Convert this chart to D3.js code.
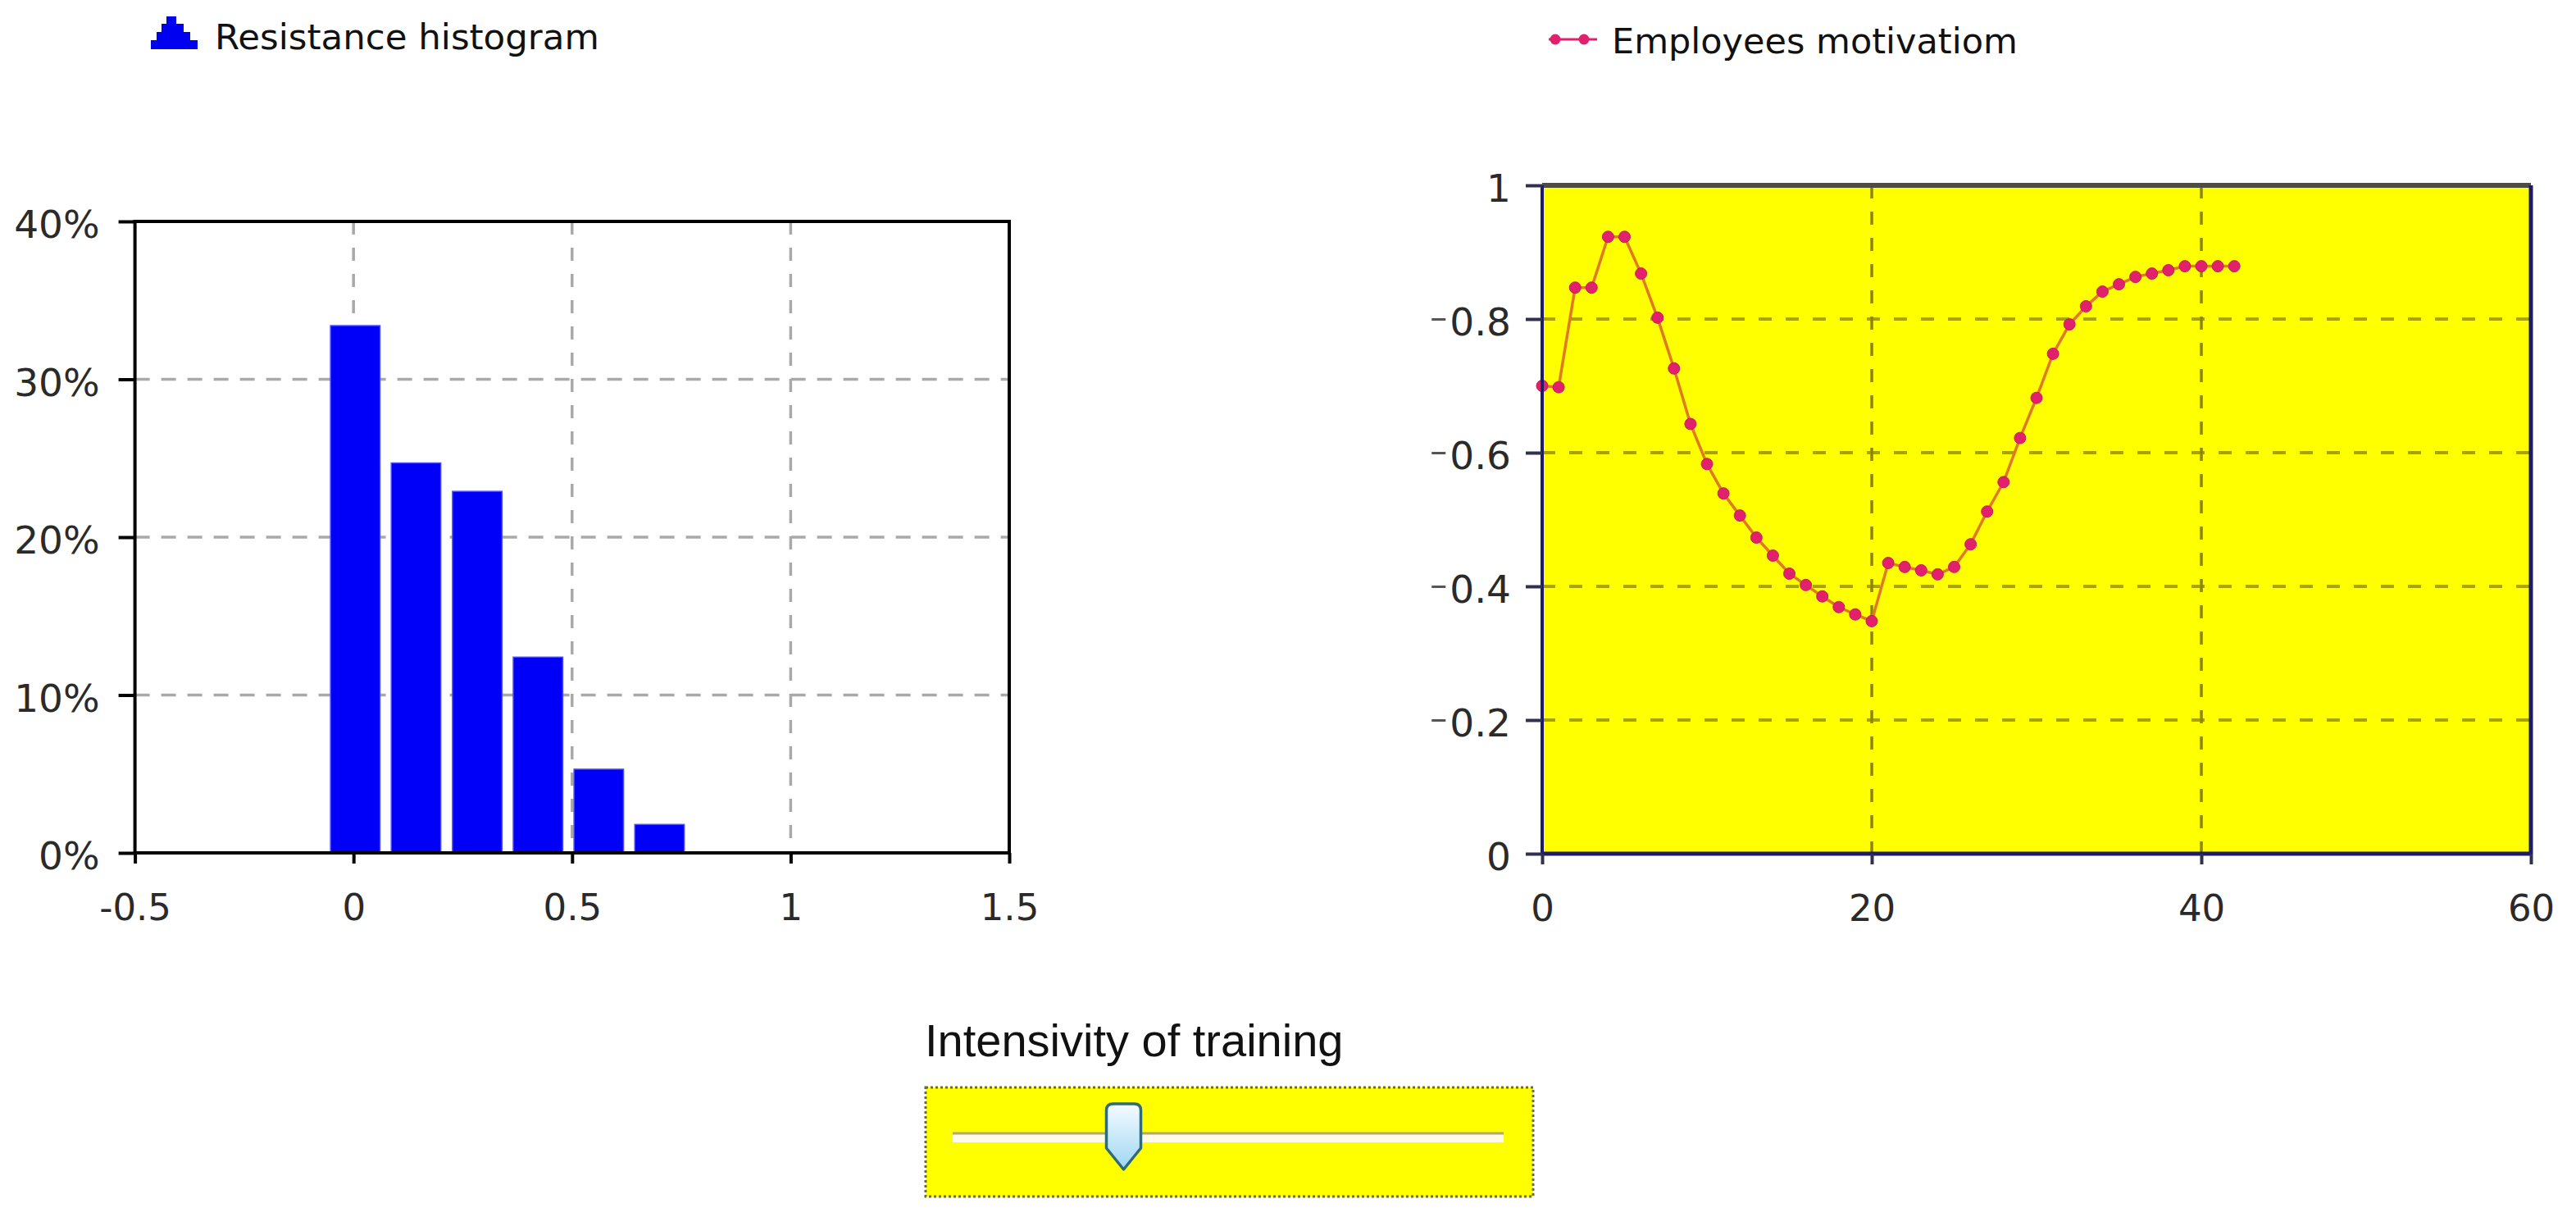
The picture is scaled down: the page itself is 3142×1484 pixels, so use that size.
<!DOCTYPE html>
<html><head><meta charset="utf-8">
<script src="https://cdn.jsdelivr.net/npm/d3@7"></script>
<style>html,body{margin:0;padding:0;background:#fff;}svg{display:block;}</style>
</head><body>
<svg id="c" width="3142" height="1484"></svg>
<script>
// ---------------- DATA ----------------
const legendLabels = ["Resistance histogram", "Employees motivatiom"];
const histBinCenters = [0.004, 0.143, 0.283, 0.422, 0.561, 0.700];
const histShares = [0.334, 0.247, 0.229, 0.124, 0.053, 0.018];
const histXTicks = [-0.5, 0, 0.5, 1, 1.5];
const histYTicks = [0, 0.1, 0.2, 0.3, 0.4];

const motivationTime = [0,1,2,3,4,5,6,7,8,9,10,11,12,13,14,15,16,17,18,19,20,21,22,23,24,25,26,27,28,29,30,31,32,33,34,35,36,37,38,39,40,41,42];
const motivationValues = [0.700,0.698,0.847,0.847,0.923,0.923,0.868,0.802,0.726,0.643,0.583,0.539,0.506,0.473,0.446,0.419,0.402,0.385,0.369,0.358,0.348,0.435,0.429,0.424,0.418,0.429,0.463,0.512,0.556,0.622,0.682,0.748,0.792,0.819,0.841,0.852,0.863,0.868,0.873,0.879,0.879,0.879,0.879];
const motXTicks = [0, 20, 40, 60];
const motYTicks = [0, 0.2, 0.4, 0.6, 0.8, 1];

const sliderLabel = "Intensivity of training";
const sliderDomain = [0, 1];
const trainingIntensity = 0.3;

// ---------------- DRAW ----------------
(function () {
const svg = d3.select("#c");
const FONT = "'DejaVu Sans', Verdana, sans-serif";

// ===== Left: histogram =====
const L = {x0: 164.6, x1: 1231, y0: 1040, y1: 270};
const xL = d3.scaleLinear().domain([histXTicks[0], histXTicks[histXTicks.length - 1]]).range([L.x0, L.x1]);
const yL = d3.scaleLinear().domain([0, d3.max(histYTicks)]).range([L.y0, L.y1]);
const gL = svg.append("g");
gL.append("rect").attr("x", L.x0).attr("y", L.y1).attr("width", L.x1 - L.x0).attr("height", L.y0 - L.y1).attr("fill", "#fff");

gL.selectAll(".hg").data(histYTicks.slice(1, -1)).join("line")
  .attr("x1", L.x0).attr("x2", L.x1).attr("y1", d => yL(d)).attr("y2", d => yL(d))
  .attr("stroke", "#a9a9a9").attr("stroke-width", 3.5).attr("stroke-dasharray", "18,14");
gL.selectAll(".vg").data(histXTicks.slice(1, -1)).join("line")
  .attr("x1", d => xL(d)).attr("x2", d => xL(d)).attr("y1", L.y1).attr("y2", L.y0)
  .attr("stroke", "#a9a9a9").attr("stroke-width", 3.5).attr("stroke-dasharray", "16,16");

const binStep = histBinCenters[1] - histBinCenters[0];
const barW = xL(binStep * 0.815) - xL(0);
gL.selectAll(".bar").data(histShares).join("rect")
  .attr("x", (d, i) => xL(histBinCenters[i]) - barW / 2)
  .attr("y", d => yL(d))
  .attr("width", barW)
  .attr("height", d => yL(0) - yL(d))
  .attr("fill", "#0000f8").attr("stroke", "#4b4bff").attr("stroke-width", 1.5);

gL.append("rect").attr("x", L.x0).attr("y", L.y1).attr("width", L.x1 - L.x0).attr("height", L.y0 - L.y1)
  .attr("fill", "none").attr("stroke", "#000").attr("stroke-width", 4);

const axLY = gL.append("g").attr("transform", `translate(${L.x0},0)`)
  .call(d3.axisLeft(yL).tickValues(histYTicks).tickFormat(d3.format(".0%")).tickSize(20).tickPadding(23));
axLY.select(".domain").remove();
axLY.selectAll("line").attr("stroke", "#000").attr("stroke-width", 4);
axLY.selectAll("text").attr("font-size", 47).attr("font-family", FONT).attr("fill", "#2a2a2a").attr("dy", "0.42em");

const axLX = gL.append("g").attr("transform", `translate(0,${L.y0})`)
  .call(d3.axisBottom(xL).tickValues(histXTicks).tickFormat(d => String(d)).tickSize(13).tickPadding(37));
axLX.select(".domain").remove();
axLX.selectAll("line").attr("stroke", "#000").attr("stroke-width", 4);
axLX.selectAll("text").attr("font-size", 45).attr("font-family", FONT).attr("fill", "#2a2a2a");

// legend left (stepped triangle)
const lg1 = svg.append("g");
lg1.append("path")
  .attr("d", "M184,60 L184,49 L191,49 L191,39 L197,39 L197,29 L203,29 L203,20 L215,20 L215,29 L224,29 L224,39 L232,39 L232,49 L241,49 L241,60 Z")
  .attr("fill", "#0000f0");
lg1.append("text").attr("x", 262).attr("y", 60).attr("font-family", FONT).attr("font-size", 43.5)
  .attr("fill", "#111").text(legendLabels[0]);

// ===== Right: motivation line chart =====
const R = {x0: 1881, x1: 3087, y0: 1041, y1: 226};
const xR = d3.scaleLinear().domain([motXTicks[0], motXTicks[motXTicks.length - 1]]).range([R.x0, R.x1]);
const yR = d3.scaleLinear().domain([0, 1]).range([R.y0, R.y1]);
const gR = svg.append("g");
gR.append("rect").attr("x", R.x0).attr("y", R.y1).attr("width", R.x1 - R.x0).attr("height", R.y0 - R.y1).attr("fill", "#ffff00");

gR.selectAll(".hg").data(motYTicks.slice(1, -1)).join("line")
  .attr("x1", R.x0).attr("x2", R.x1).attr("y1", d => yR(d)).attr("y2", d => yR(d))
  .attr("stroke", "#a9a200").attr("stroke-width", 4).attr("stroke-dasharray", "16,17");
gR.selectAll(".vg").data(motXTicks.slice(1, -1)).join("line")
  .attr("x1", d => xR(d)).attr("x2", d => xR(d)).attr("y1", R.y1).attr("y2", R.y0)
  .attr("stroke", "#8a8600").attr("stroke-width", 3.5).attr("stroke-dasharray", "16,16");

const pts = motivationTime.map((t, i) => [t, motivationValues[i]]);
gR.append("path").datum(pts)
  .attr("d", d3.line().x(d => xR(d[0])).y(d => yR(d[1])))
  .attr("fill", "none").attr("stroke", "#e07a22").attr("stroke-width", 3.5);
gR.selectAll(".pt").data(pts).join("circle")
  .attr("cx", d => xR(d[0])).attr("cy", d => yR(d[1])).attr("r", 7)
  .attr("fill", "#e2216c").attr("stroke", "#c81a5a").attr("stroke-width", 1);

// frame
gR.append("line").attr("x1", R.x0).attr("x2", R.x1).attr("y1", R.y1).attr("y2", R.y1).attr("stroke", "#4d4d40").attr("stroke-width", 6);
gR.append("line").attr("x1", R.x0).attr("x2", R.x1).attr("y1", R.y0).attr("y2", R.y0).attr("stroke", "#1c1c6a").attr("stroke-width", 5);
gR.append("line").attr("x1", R.x0).attr("x2", R.x0).attr("y1", R.y1).attr("y2", R.y0).attr("stroke", "#1c1c6a").attr("stroke-width", 4);
gR.append("line").attr("x1", R.x1).attr("x2", R.x1).attr("y1", R.y1).attr("y2", R.y0).attr("stroke", "#1c1c6a").attr("stroke-width", 5);

const axRY = gR.append("g").attr("transform", `translate(${R.x0},0)`)
  .call(d3.axisLeft(yR).tickValues(motYTicks).tickFormat(d => String(d)).tickSize(20).tickPadding(18));
axRY.select(".domain").remove();
axRY.selectAll("line").attr("stroke", "#303050").attr("stroke-width", 4);
axRY.selectAll("text").attr("font-size", 47).attr("font-family", FONT).attr("fill", "#2a2a2a").attr("dy", "0.42em");
// small dash marks drawn in front of the intermediate labels, as in the reference
axRY.selectAll(".tick").each(function(d) {
  if (d <= 0 || d >= 1) return;
  const t = d3.select(this).select("text");
  const w = t.node().getComputedTextLength();
  const xr = -20 - 18 - w;
  d3.select(this).append("line").attr("x1", xr - 22).attr("x2", xr - 5).attr("y1", 0).attr("y2", 0)
    .attr("stroke", "#555").attr("stroke-width", 3);
});

const axRX = gR.append("g").attr("transform", `translate(0,${R.y0})`)
  .call(d3.axisBottom(xR).tickValues(motXTicks).tickFormat(d => String(d)).tickSize(13).tickPadding(37));
axRX.select(".domain").remove();
axRX.selectAll("line").attr("stroke", "#303050").attr("stroke-width", 4);
axRX.selectAll("text").attr("font-size", 45).attr("font-family", FONT).attr("fill", "#2a2a2a");

// legend right
const lg2 = svg.append("g");
lg2.append("line").attr("x1", 1889).attr("x2", 1948).attr("y1", 48).attr("y2", 48).attr("stroke", "#e2216c").attr("stroke-width", 3);
lg2.selectAll("circle").data([1897, 1932]).join("circle").attr("cx", d => d).attr("cy", 48).attr("r", 6.5).attr("fill", "#e2216c");
lg2.append("text").attr("x", 1966).attr("y", 65).attr("font-family", FONT).attr("font-size", 43)
  .attr("fill", "#111").text(legendLabels[1]);

// ===== Slider =====
const gS = svg.append("g");
gS.append("text").attr("x", 1128).attr("y", 1288).attr("font-family", "'Liberation Sans', Arial, sans-serif")
  .attr("font-size", 56).attr("fill", "#111").text(sliderLabel);
gS.append("rect").attr("x", 1129).attr("y", 1326).attr("width", 741).attr("height", 133)
  .attr("fill", "#ffff00").attr("stroke", "#6a6a3a").attr("stroke-width", 3).attr("stroke-dasharray", "3,3");
gS.append("rect").attr("x", 1162).attr("y", 1382).attr("width", 672).attr("height", 11)
  .attr("fill", "#fffbe6");
gS.append("line").attr("x1", 1162).attr("x2", 1834).attr("y1", 1382).attr("y2", 1382).attr("stroke", "#b0a878").attr("stroke-width", 3);

const sx = d3.scaleLinear().domain(sliderDomain).range([1180, 1815]);
const defs = svg.append("defs");
const grad = defs.append("linearGradient").attr("id", "thumbG").attr("x1", 0).attr("y1", 0).attr("x2", 0).attr("y2", 1);
grad.append("stop").attr("offset", "0%").attr("stop-color", "#f4fbff");
grad.append("stop").attr("offset", "100%").attr("stop-color", "#9fd6f3");
const cx = sx(trainingIntensity);
const hw = 21, tTop = 1346, tMid = 1400, tBot = 1426;
gS.append("path")
  .attr("d", `M${cx - hw},${tTop + 8} Q${cx - hw},${tTop} ${cx - hw + 8},${tTop} L${cx + hw - 8},${tTop} Q${cx + hw},${tTop} ${cx + hw},${tTop + 8} L${cx + hw},${tMid} L${cx},${tBot} L${cx - hw},${tMid} Z`)
  .attr("fill", "url(#thumbG)").attr("stroke", "#2d6c78").attr("stroke-width", 3.5).attr("stroke-linejoin", "round");
})();
</script>
</body></html>
